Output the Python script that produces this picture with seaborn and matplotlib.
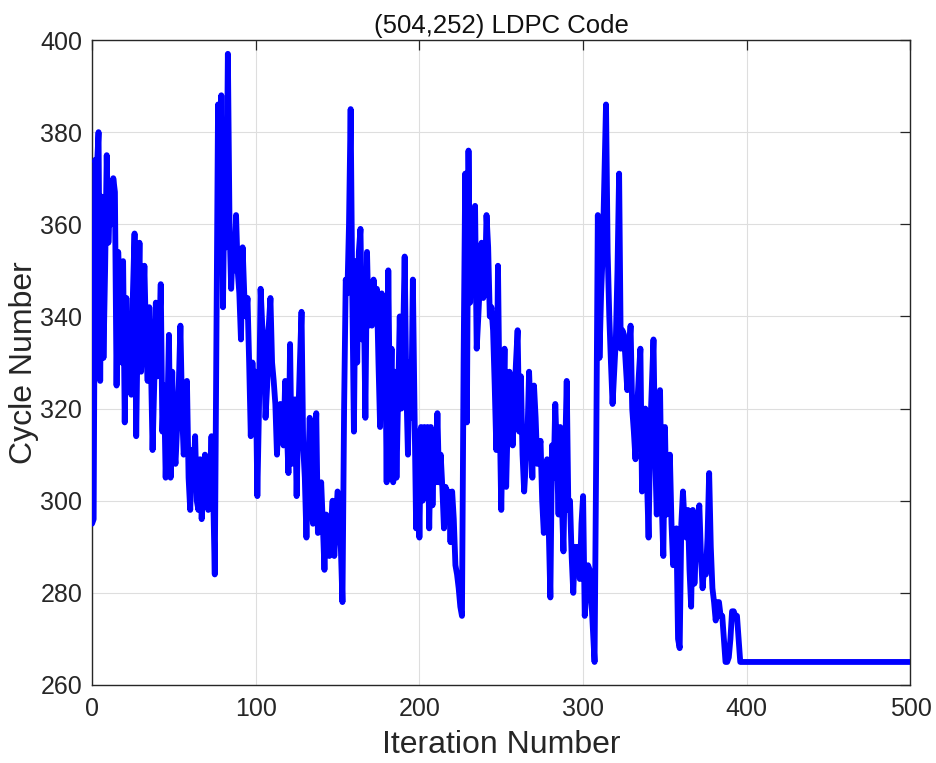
import matplotlib
matplotlib.use("Agg")
import matplotlib.pyplot as plt
import seaborn as sns
import pandas as pd

# Cycle number per iteration, iterations 0..397
cycles = [
    295, 296, 374, 372, 380, 326, 366, 331, 350, 375,
    356, 365, 360, 370, 367, 325, 354, 345, 330, 352,
    317, 344, 328, 338, 323, 345, 358, 314, 340, 356,
    328, 340, 351, 335, 326, 342, 330, 311, 325, 343,
    327, 335, 347, 315, 325, 305, 318, 336, 305, 328,
    312, 308, 316, 325, 338, 320, 310, 313, 326, 305,
    298, 311, 305, 314, 300, 298, 309, 296, 305, 310,
    302, 298, 305, 314, 302, 284, 335, 386, 360, 388,
    342, 370, 355, 397, 360, 346, 355, 350, 362, 350,
    345, 335, 355, 345, 340, 344, 330, 314, 330, 320,
    328, 301, 320, 346, 338, 335, 318, 325, 338, 344,
    330, 326, 321, 310, 318, 321, 315, 312, 326, 316,
    306, 334, 308, 316, 322, 301, 318, 330, 341, 312,
    305, 292, 306, 318, 300, 295, 310, 319, 293, 298,
    304, 295, 285, 297, 292, 288, 295, 300, 288, 295,
    302, 296, 290, 278, 320, 348, 345, 360, 385, 345,
    315, 352, 330, 354, 359, 335, 345, 318, 354, 338,
    346, 338, 348, 340, 346, 330, 316, 345, 328, 340,
    304, 350, 318, 333, 304, 328, 305, 322, 340, 320,
    334, 353, 325, 310, 330, 318, 348, 320, 294, 315,
    292, 316, 300, 316, 309, 316, 294, 316, 299, 312,
    304, 319, 304, 310, 303, 294, 303, 296, 302, 291,
    302, 296, 286, 284, 281, 277, 275, 330, 371, 317,
    376, 343, 358, 346, 364, 333, 340, 348, 356, 344,
    346, 362, 355, 340, 342, 337, 325, 311, 351, 320,
    298, 318, 333, 303, 318, 328, 320, 312, 322, 330,
    337, 315, 327, 310, 302, 308, 314, 328, 318, 305,
    325, 318, 308, 311, 313, 300, 293, 300, 309, 294,
    279, 312, 305, 321, 310, 297, 316, 300, 289, 310,
    326, 298, 300, 288, 280, 290, 289, 290, 283, 295,
    301, 275, 280, 286, 285, 279, 272, 265, 310, 362,
    331, 345, 354, 370, 386, 354, 340, 330, 321, 328,
    335, 350, 371, 333, 337, 336, 330, 324, 332, 338,
    320, 315, 309, 320, 327, 333, 302, 312, 320, 305,
    292, 315, 325, 335, 310, 297, 310, 324, 300, 288,
    316, 297, 304, 310, 295, 286, 290, 294, 270, 268,
    295, 302, 295, 292, 298, 285, 277, 298, 282, 290,
    296, 299, 288, 281, 286, 284, 292, 306, 290, 281,
    278, 274, 278, 278, 275, 275, 270, 265, 265, 266,
    270, 276, 276, 275, 275, 270, 265, 265,
]
# final plateau point
iter_end = 500
cycles_end = 265

x_ticks = [0, 100, 200, 300, 400, 500]
y_ticks = [260, 280, 300, 320, 340, 360, 380, 400]
title_text = "(504,252) LDPC Code"
xlabel_text = "Iteration Number"
ylabel_text = "Cycle Number"

iterations = list(range(len(cycles))) + [iter_end]
values = cycles + [cycles_end]
df = pd.DataFrame({"Iteration": iterations, "Cycles": values})

sns.set_style("white")
plt.rcParams["font.family"] = ["Liberation Sans", "DejaVu Sans"]

fig = plt.figure(figsize=(9.37, 7.63), dpi=100)
ax = fig.add_axes([92 / 937, 1 - 685 / 763, 818.5 / 937, 645 / 763])

sns.lineplot(data=df, x="Iteration", y="Cycles", ax=ax, color=(0, 0, 1),
             linewidth=4.2, estimator=None, sort=False, zorder=3)

ax.set_xlim(0, 500)
ax.set_ylim(260, 400)
ax.set_xticks(x_ticks)
ax.set_yticks(y_ticks)
ax.grid(True, color="#dedede", linewidth=0.8)
ax.set_axisbelow(True)

edge = "#262626"
for s in ax.spines.values():
    s.set_visible(True)
    s.set_color(edge)
    s.set_linewidth(1.0)

ax.tick_params(axis="x", which="both", direction="in", length=7, width=0.9,
               colors=edge, labelsize=18, top=True, labelcolor="#262626", pad=9)
ax.tick_params(axis="y", which="both", direction="in", length=7, width=0.9,
               colors=edge, labelsize=18, right=True, labelcolor="#262626", pad=7)

ax.set_title(title_text, fontsize=18.5, color="#111111", pad=5)
ax.set_xlabel(xlabel_text, fontsize=23, color="#262626", labelpad=6)
ax.set_ylabel(ylabel_text, fontsize=23, color="#262626", labelpad=1)

fig.savefig("out.png", dpi=100)
